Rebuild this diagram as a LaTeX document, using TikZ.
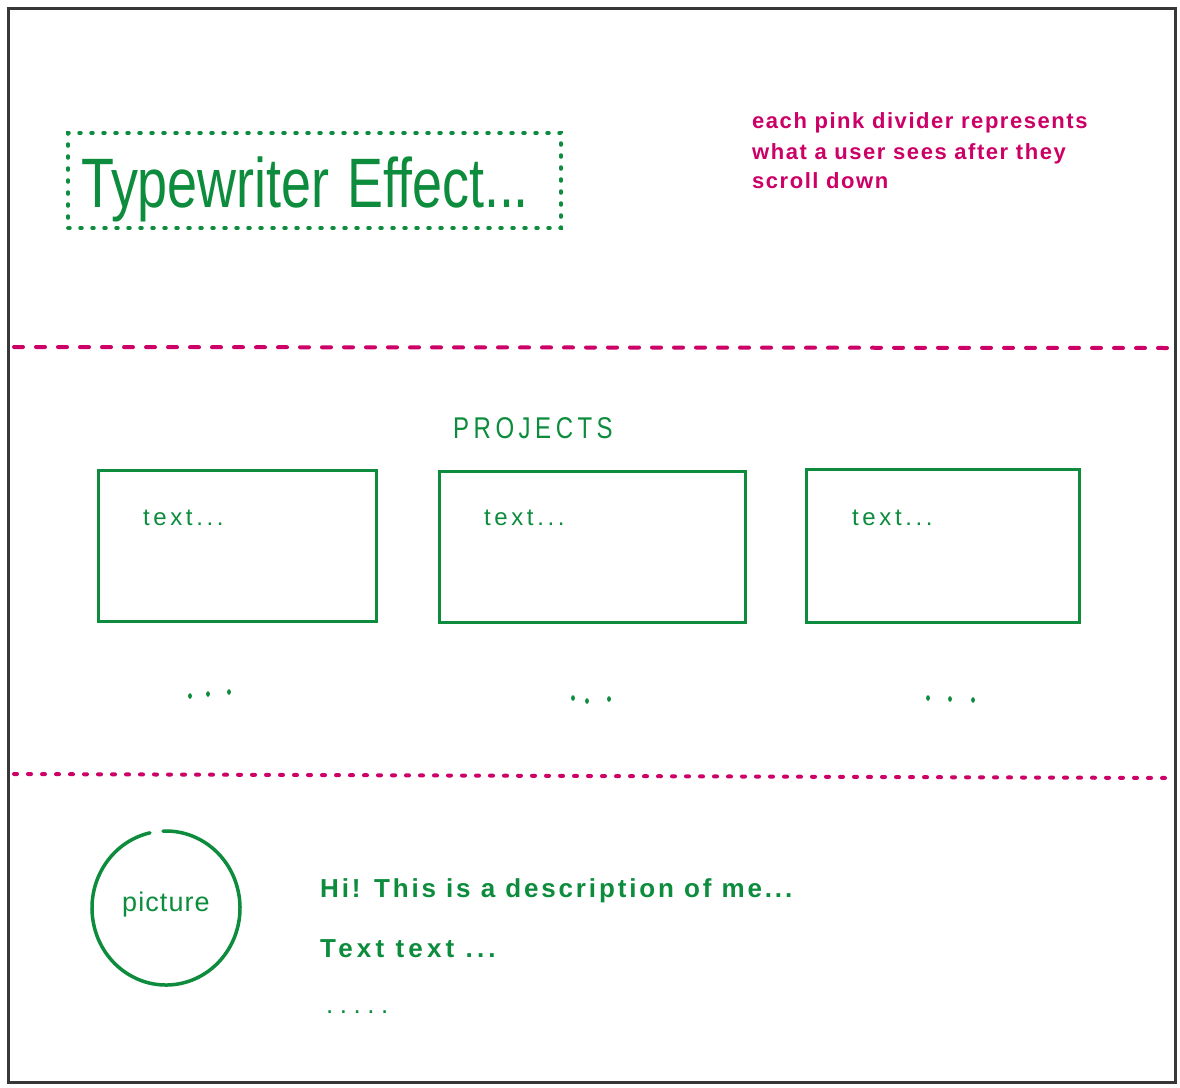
\documentclass[tikz,border=0pt]{standalone}
\usepackage{fontspec}
\setmainfont{Liberation Sans}
\newfontfamily\titlefont[FakeStretch=0.77]{Liberation Sans}
\definecolor{ink}{RGB}{12,140,60}
\definecolor{pinkink}{RGB}{204,0,102}
\definecolor{framegray}{RGB}{55,55,55}
\tikzset{
  cardbox/.style={draw=ink, line width=3pt, inner sep=0pt},
  pinkdiv/.style={draw=pinkink, line width=4pt, line cap=round},
  greentext/.style={text=ink, inner sep=0pt, anchor=base west},
  pinktext/.style={text=pinkink, inner sep=0pt, anchor=base west,
    font=\fontsize{22}{30}\selectfont\bfseries\addfontfeature{LetterSpace=7}},
  dotmark/.style={fill=ink, draw=none},
}
\begin{document}
\begin{tikzpicture}[x=1pt,y=-1pt]
\useasboundingbox (0,0) rectangle (1180,1087);
\fill[white] (0,0) rectangle (1180,1087);
% outer frame
\node[draw=framegray, line width=3pt, minimum width=1167pt, minimum height=1074pt, inner sep=0pt] (frame) at (591.5,545) {};
% title
\node[draw=ink, line width=3.5pt, line cap=round, dash pattern=on 2pt off 10pt,
      minimum width=493pt, minimum height=95pt, inner sep=0pt] (titlebox) at (314.5,180.5) {};
\node[text=ink, inner sep=0pt, anchor=base] (title) at (305,207)
  {\titlefont\fontsize{70}{80}\selectfont Typewriter\hspace{0.25em}Effect...};
% pink note
\node[pinktext] (note1) at (752,128) {each pink divider represents};
\node[pinktext] (note2) at (752,159) {what a user sees after they};
\node[pinktext] (note3) at (752,188) {scroll down};
% dividers
\coordinate (d1l) at (14,347);
\coordinate (d1r) at (1170,348);
\draw[pinkdiv, dash pattern=on 9pt off 13pt] (d1l) -- (d1r);
\coordinate (d2l) at (14,774);
\coordinate (d2r) at (1170,778);
\draw[pinkdiv, dash pattern=on 3pt off 11pt] (d2l) -- (d2r);
% projects
\node[text=ink, inner sep=0pt, anchor=base] (projects) at (533,438)
  {\fontsize{30}{34}\selectfont\addfontfeature{FakeStretch=0.8,LetterSpace=15}PROJECTS};
\node[cardbox, minimum width=278pt, minimum height=151pt] (card1) at (237,545.5) {};
\node[cardbox, minimum width=306pt, minimum height=151pt] (card2) at (592,546.5) {};
\node[cardbox, minimum width=273pt, minimum height=153pt] (card3) at (942.5,545.5) {};
\node[greentext] (t1) at (143,525) {\fontsize{24}{28}\selectfont\addfontfeature{LetterSpace=15}text...};
\node[greentext] (t2) at (484,525) {\fontsize{24}{28}\selectfont\addfontfeature{LetterSpace=15}text...};
\node[greentext] (t3) at (852,525) {\fontsize{24}{28}\selectfont\addfontfeature{LetterSpace=15}text...};
% ellipsis marks below cards
\foreach \x/\y [count=\i] in {190/696,208/694,229/692,573/698,587/701,609/699,928/698,950/699,973/700}
  \fill[dotmark] (\x,\y) ellipse [x radius=1.9pt, y radius=2.8pt];
% picture circle (gap at top)
\coordinate (pc) at (166,908);
\draw[draw=ink, line width=3.5pt, line cap=round]
  (pc) ++(102.5:74pt and 77pt) arc[start angle=102.5, end angle=452.3, x radius=74pt, y radius=77pt];
\node[text=ink, inner sep=0pt] (pic) at (166,905)
  {\fontsize{27}{30}\selectfont\addfontfeature{LetterSpace=4}picture};
% description
\node[greentext] (desc1) at (320,897)
  {\fontsize{26}{30}\selectfont\bfseries\addfontfeature{LetterSpace=11}Hi! This is a description of me...};
\node[greentext] (desc2) at (320,957)
  {\fontsize{26}{30}\selectfont\bfseries\addfontfeature{LetterSpace=16}Text text ...};
\node[greentext] (desc3) at (326,1013)
  {\fontsize{26}{30}\selectfont\addfontfeature{LetterSpace=25}.....};
\end{tikzpicture}
\end{document}
